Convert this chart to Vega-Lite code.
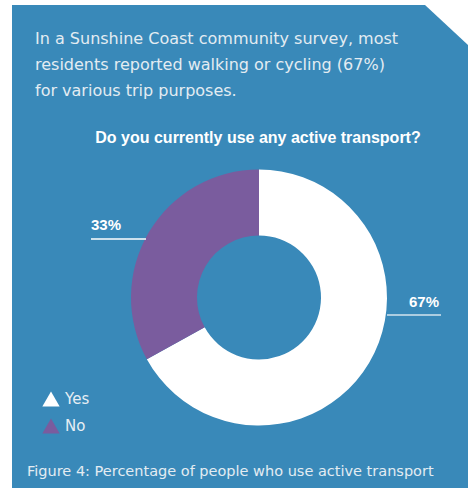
{
  "$schema": "https://vega.github.io/schema/vega-lite/v6.json",
  "width": 468,
  "height": 488,
  "autosize": {"type": "fit", "contains": "padding"},
  "padding": {"left": 12, "top": 5, "right": 0, "bottom": 0},
  "background": "#ffffff",
  "config": {"view": {"fill": "#3989b9", "stroke": null}, "font": "Liberation Sans"},
  "data": {"values": [{"answer": "Yes", "share": 0.67}, {"answer": "No", "share": 0.33}]},
  "layer": [
    {
      "mark": {"type": "arc", "innerRadius": 62, "outerRadius": 128, "x": 247, "y": 292.5},
      "encoding": {
        "theta": {"field": "share", "type": "quantitative", "stack": true},
        "order": {"field": "share", "sort": "descending"},
        "color": {
          "field": "answer",
          "type": "nominal",
          "scale": {"domain": ["Yes", "No"], "range": ["#ffffff", "#7a5c9e"]},
          "legend": {
            "orient": "none",
            "legendX": 30,
            "legendY": 385,
            "title": null,
            "symbolType": "triangle-up",
            "symbolSize": 300,
            "symbolStrokeWidth": 0,
            "symbolOpacity": 1,
            "labelColor": "#e6eef4",
            "labelFontSize": 15,
            "labelFont": "DejaVu Sans",
            "rowPadding": 10,
            "labelOffset": 5
          }
        }
      }
    },
    {
      "transform": [{"filter": "datum.answer === 'No'"}],
      "mark": {"type": "text", "x": 79, "y": 225, "align": "left", "baseline": "alphabetic", "fontSize": 15, "fontWeight": "bold", "color": "#ffffff"},
      "encoding": {"text": {"field": "share", "type": "quantitative", "format": ".0%"}}
    },
    {
      "transform": [{"filter": "datum.answer === 'Yes'"}],
      "mark": {"type": "text", "x": 397, "y": 302, "align": "left", "baseline": "alphabetic", "fontSize": 15, "fontWeight": "bold", "color": "#ffffff"},
      "encoding": {"text": {"field": "share", "type": "quantitative", "format": ".0%"}}
    },
    {
      "data": {"values": [{}]},
      "mark": {"type": "rule", "color": "#ffffff", "strokeWidth": 1.5},
      "encoding": {"x": {"value": 79}, "x2": {"value": 134}, "y": {"value": 234}}
    },
    {
      "data": {"values": [{}]},
      "mark": {"type": "rule", "color": "#d3e5ef", "strokeWidth": 1.5},
      "encoding": {"x": {"value": 375}, "x2": {"value": 429}, "y": {"value": 310}}
    },
    {
      "data": {"values": [{}]},
      "mark": {"type": "point", "shape": "M-1,-1L1,-1L1,0.86Z", "size": 1849, "filled": true, "color": "#ffffff", "opacity": 1, "strokeWidth": 0, "x": 434.5, "y": 21.5},
      "encoding": {}
    },
    {
      "data": {"values": [{}]},
      "mark": {
        "type": "text",
        "text": ["In a Sunshine Coast community survey, most", "residents reported walking or cycling (67%)", "for various trip purposes."],
        "x": 23, "y": 39, "align": "left", "baseline": "alphabetic", "lineHeight": 26,
        "font": "DejaVu Sans", "fontSize": 16, "color": "#e3ecf2"
      },
      "encoding": {}
    },
    {
      "data": {"values": [{}]},
      "mark": {
        "type": "text",
        "text": "Do you currently use any active transport?",
        "x": 246, "y": 138, "align": "center", "baseline": "alphabetic",
        "fontSize": 16, "fontWeight": "bold", "color": "#ffffff"
      },
      "encoding": {}
    },
    {
      "data": {"values": [{}]},
      "mark": {
        "type": "text",
        "text": "Figure 4: Percentage of people who use active transport",
        "x": 15, "y": 471, "align": "left", "baseline": "alphabetic",
        "font": "DejaVu Sans", "fontSize": 14.5, "color": "#e3ecf2"
      },
      "encoding": {}
    }
  ]
}
